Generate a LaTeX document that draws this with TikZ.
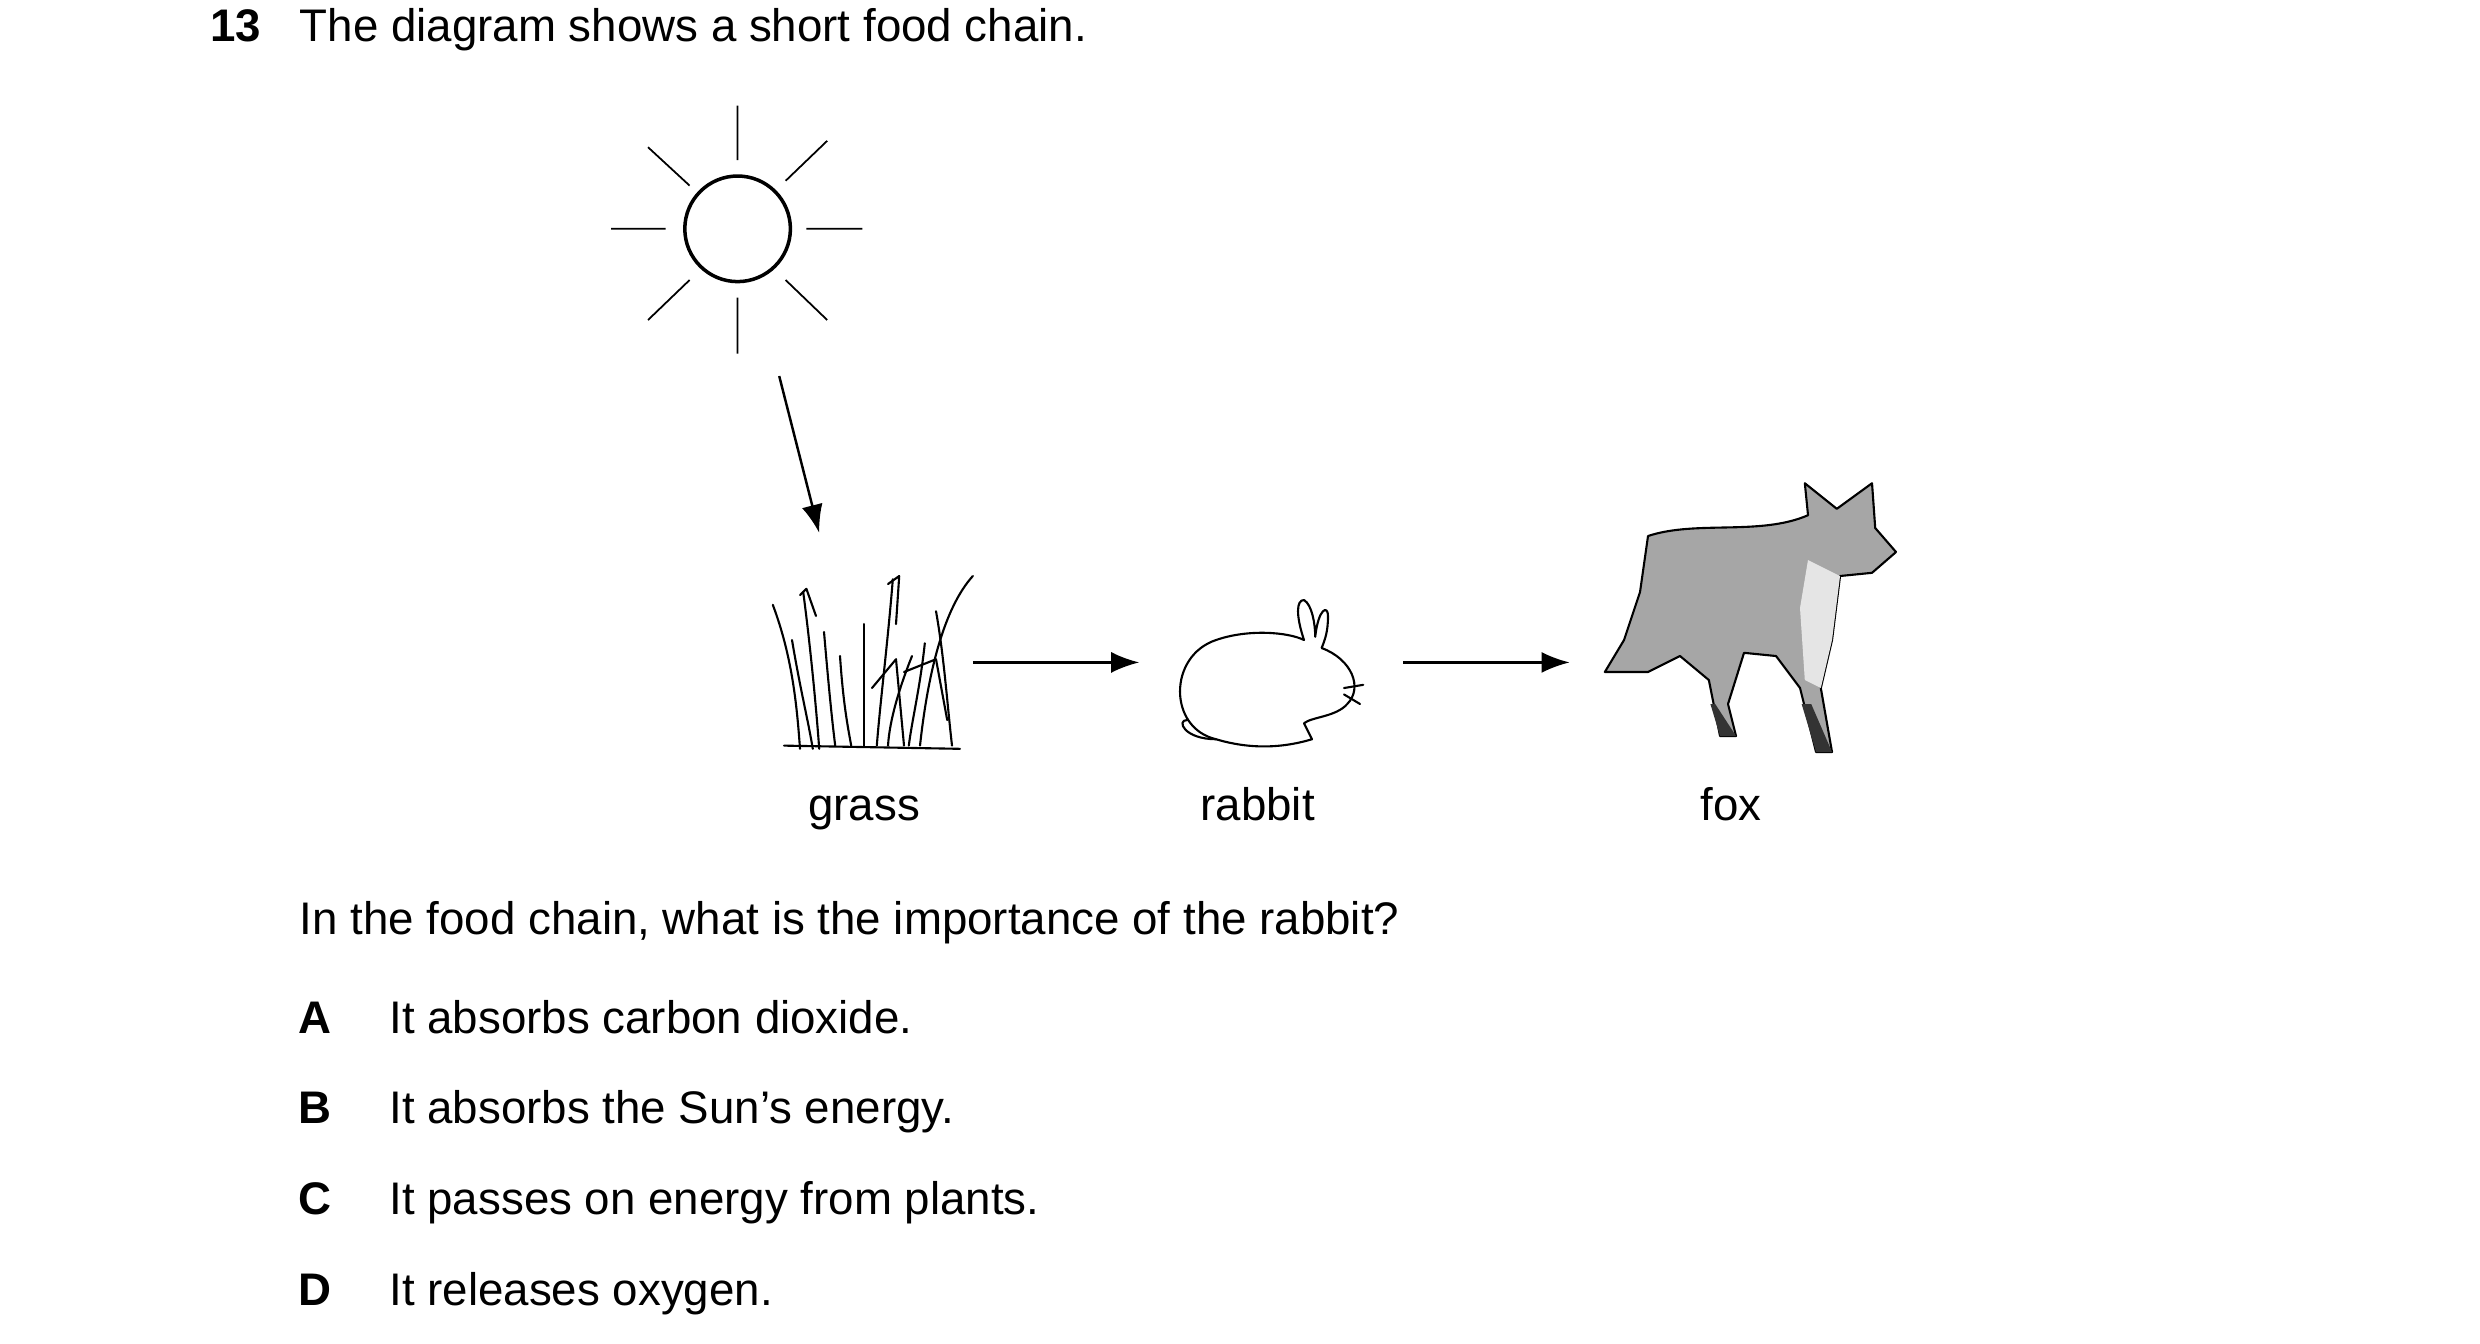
\documentclass[tikz,border=0pt]{standalone}
\usepackage{fontspec}
\setmainfont{Liberation Sans}
\usetikzlibrary{arrows.meta}
\begin{document}
\begin{tikzpicture}[x=0.016cm,y=-0.016cm,
  txt/.style={anchor=base west,inner sep=0,font=\fontsize{13}{15}\selectfont},
  lbl/.style={anchor=base,inner sep=0,font=\fontsize{13}{15}\selectfont},
  ray/.style={line width=0.5pt},
  arr/.style={line width=0.7pt,-{Latex[length=8pt,width=6pt]}},
  sk/.style={line width=0.6pt,line cap=round,line join=round}]
\useasboundingbox (0,0) rectangle (1550,839.4);
\node[txt,font=\fontsize{13}{15}\selectfont\bfseries] (num) at (131,26) {13};
\node[txt] (title) at (187,26) {The diagram shows a short food chain.};
% sun
\node[draw,circle,line width=1pt,minimum size=66*0.016cm,inner sep=0] (sun) at (461,143) {};
\draw[ray] (461,66)--(461,100) (461,186)--(461,221) (382,143)--(416,143) (504,143)--(539,143)
 (405,92)--(431,116) (517,88)--(491,113) (405,200)--(431,175) (491,175)--(517,200);
\coordinate (s) at (487,235);
% grass
\begin{scope}[sk]
\draw (483,378) .. controls (495,410) and (498,440) .. (500,468);
\draw (495,400) .. controls (500,430) and (505,450) .. (508,468);
\draw (502,370) .. controls (506,400) and (510,440) .. (512,468);
\draw (500,372) -- (504,368) -- (510,385);
\draw (515,395) .. controls (518,430) and (520,450) .. (522,466);
\draw (525,410) .. controls (527,440) and (530,455) .. (532,466);
\draw (540,390) .. controls (540,420) and (540,450) .. (540,466);
\draw (558,362) .. controls (555,400) and (550,440) .. (548,466);
\draw (555,365) -- (562,360) -- (560,390);
\draw (570,410) .. controls (562,430) and (556,450) .. (555,466);
\draw (578,402) .. controls (575,430) and (570,450) .. (568,466);
\draw (608,360) .. controls (590,380) and (580,420) .. (575,466);
\draw (585,382) .. controls (590,410) and (592,440) .. (595,466);
\draw (565,420) -- (585,412) -- (592,450);
\draw (490,466) -- (600,468);
\draw (545,430) -- (560,412) -- (565,466);
\end{scope}
\node[lbl] (gl) at (540,513) {grass};
% rabbit
\begin{scope}[sk]
\draw (760,462) .. controls (730,455) and (730,410) .. (760,400)
 .. controls (780,393) and (805,395) .. (815,400)
 .. controls (810,385) and (810,375) .. (815,375) .. controls (820,378) and (822,390) .. (822,398)
 .. controls (824,380) and (830,378) .. (830,385) .. controls (830,395) and (828,400) .. (826,405)
 .. controls (845,412) and (852,430) .. (842,440)
 .. controls (835,448) and (820,448) .. (815,452) -- (820,462) .. controls (800,468) and (780,468) .. (760,462);
\draw (760,462) .. controls (740,462) and (735,450) .. (742,450);
\draw (840,430) -- (852,428) (840,434) -- (850,440);
\end{scope}
\node[lbl] (rl) at (786,513) {rabbit};
% fox
\filldraw[sk,fill=gray!70,draw=black] (1130,322) -- (1128,302) -- (1148,318) -- (1170,302) -- (1172,330)
 -- (1185,345) -- (1170,358) -- (1150,360) -- (1145,400) -- (1138,430) -- (1145,470) -- (1135,470)
 -- (1125,430) -- (1110,410) -- (1090,408) -- (1080,440) -- (1085,460) -- (1075,460) -- (1068,425)
 -- (1050,410) -- (1030,420) -- (1003,420) -- (1015,400) -- (1025,370) -- (1030,335)
 .. controls (1060,325) and (1100,335) .. cycle;
\fill[gray!20] (1130,350) -- (1150,360) -- (1145,400) -- (1138,430) -- (1128,425) -- (1125,380) -- cycle;
\fill[black!80] (1132,440) -- (1145,470) -- (1135,470) -- (1126,440) -- cycle;
\fill[black!80] (1072,440) -- (1085,460) -- (1075,460) -- (1069,440) -- cycle;
\node[lbl] (fl) at (1082,513) {fox};
% arrows
\draw[arr] (s) -- (512,333);
\coordinate (a1) at (608,414); \coordinate (a2) at (712,414);
\coordinate (b1) at (877,414); \coordinate (b2) at (981,414);
\draw[arr] (a1) -- (a2);
\draw[arr] (b1) -- (b2);
% question
\node[txt] (q) at (187,584) {In the food chain, what is the importance of the rabbit?};
\foreach \L/\T/\y [count=\i] in {A/It absorbs carbon dioxide./646, B/It absorbs the Sun’s energy./702, C/It passes on energy from plants./759, D/It releases oxygen./816}{
  \node[lbl,font=\fontsize{13}{15}\selectfont\bfseries] (L\i) at (197,\y) {\L};
  \node[txt] (T\i) at (243,\y) {\T};
}
\end{tikzpicture}
\end{document}
